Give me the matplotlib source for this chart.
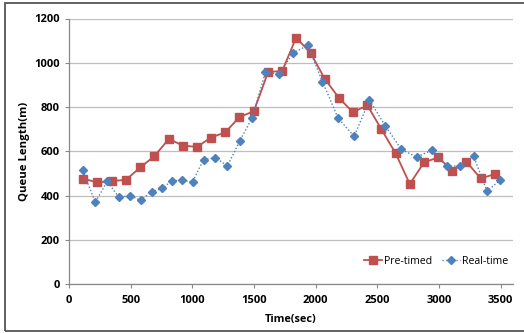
import matplotlib
matplotlib.use("Agg")
import matplotlib.pyplot as plt
from matplotlib.patches import Rectangle

# Data
pre_x = [116, 230, 348, 462, 578, 691, 810, 924, 1040, 1150, 1267, 1380, 1499, 1615, 1728,
         1842, 1961, 2074, 2190, 2301, 2420, 2533, 2649, 2763, 2879, 2995, 3108, 3222, 3338, 3454]
pre_y = [476, 459, 465, 471, 527, 577, 656, 625, 620, 662, 685, 754, 781, 959, 962,
         1114, 1042, 927, 840, 777, 807, 699, 590, 452, 550, 572, 512, 553, 477, 497]

real_x = [111, 213, 311, 405, 494, 581, 670, 756, 834, 918, 1002, 1091, 1185, 1285, 1385, 1485,
          1593, 1704, 1817, 1936, 2055, 2182, 2312, 2436, 2565, 2695, 2819, 2944, 3062, 3173,
          3281, 3389, 3492]
real_y = [513, 370, 464, 391, 400, 378, 417, 432, 467, 468, 462, 562, 571, 534, 647, 751,
          958, 949, 1045, 1078, 915, 750, 667, 831, 715, 608, 574, 605, 533, 533,
          577, 420, 468]

x_ticks = [0, 500, 1000, 1500, 2000, 2500, 3000, 3500]
y_ticks = [0, 200, 400, 600, 800, 1000, 1200]

plt.rcParams['font.family'] = ['Open Sans', 'DejaVu Sans']

fig = plt.figure(figsize=(5.24, 3.33), dpi=100)
W, H = 524, 333
ax = fig.add_axes([69 / W, 1 - 284 / H, (513 - 69) / W, (284 - 18.5) / H])

red = '#C0504D'
blue = '#4F81BD'

ax.plot(pre_x, pre_y, color=red, lw=1.3, marker='s', markersize=6,
        markerfacecolor=red, markeredgecolor=red, label='Pre-timed', zorder=3)
ax.plot(real_x, real_y, color=blue, lw=1.0, ls=(0, (1, 1.5)), marker='D', markersize=4.3,
        markerfacecolor=blue, markeredgecolor=blue, label='Real-time', zorder=4)

ax.set_xlim(0, 3600)
ax.set_ylim(0, 1200)
ax.set_xticks(x_ticks)
ax.set_yticks(y_ticks)
ax.grid(axis='y', color='#BFBFBF', lw=0.9)
ax.set_axisbelow(True)
for s in ['top', 'right']:
    ax.spines[s].set_visible(False)
for s in ['left', 'bottom']:
    ax.spines[s].set_color('#888888')
    ax.spines[s].set_linewidth(0.9)
ax.tick_params(axis='both', colors='#888888', length=3, width=0.8, direction='out',
               labelcolor='black', labelsize=8)
ax.tick_params(axis='x', pad=5)
for lbl in ax.get_xticklabels() + ax.get_yticklabels():
    lbl.set_fontweight('bold')

ax.set_xlabel('Time(sec)', fontsize=7.8, fontweight='bold', labelpad=6)
ax.set_ylabel('Queue Length(m)', fontsize=8.2, fontweight='bold', labelpad=3)

leg = ax.legend(loc='lower right', bbox_to_anchor=(1.01, 0.03), ncol=2, frameon=False,
                fontsize=7.6, handlelength=1.7, columnspacing=1.0, handletextpad=0.15,
                markerscale=0.9)

fig.patches.append(Rectangle((5 / W, 1 - 330.5 / H), (530 - 5) / W, (330.5 - 3) / H,
                             transform=fig.transFigure, fill=False,
                             edgecolor='#555555', lw=1.3))

fig.savefig('out.png', dpi=100)
